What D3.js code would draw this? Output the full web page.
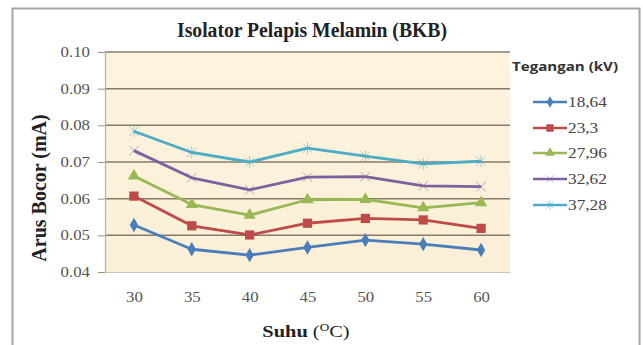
<!DOCTYPE html>
<html>
<head>
<meta charset="utf-8">
<script src="https://cdn.jsdelivr.net/npm/d3@7"></script>
<style>
  html, body { margin: 0; padding: 0; background: #fff; }
  svg { display: block; }
</style>
</head>
<body>
<svg id="chart" width="643" height="345"></svg>
<script>
// Leakage current of melamine-coated insulator vs temperature, per test voltage
const suhu = [30, 35, 40, 45, 50, 55, 60];
const teganganLabels = ["18,64", "23,3", "27,96", "32,62", "37,28"];
const arus18_64 = [0.0528, 0.0462, 0.0446, 0.0467, 0.0487, 0.0476, 0.0460];
const arus23_3  = [0.0607, 0.0526, 0.0501, 0.0533, 0.0546, 0.0542, 0.0519];
const arus27_96 = [0.0662, 0.0584, 0.0555, 0.0597, 0.0598, 0.0575, 0.0589];
const arus32_62 = [0.0731, 0.0657, 0.0624, 0.0659, 0.0660, 0.0635, 0.0633];
const arus37_28 = [0.0784, 0.0726, 0.0700, 0.0738, 0.0716, 0.0695, 0.0702];
const yTicks = [0.04, 0.05, 0.06, 0.07, 0.08, 0.09, 0.10];

const seriesValues = [arus18_64, arus23_3, arus27_96, arus32_62, arus37_28];
const colors = ["#4a7ebb", "#be4b48", "#98b954", "#7d60a0", "#4bacc6"];
const symbols = ["diamond", "square", "triangle", "x", "star"];

const svg = d3.select("#chart");
const plot = { left: 105, right: 510, top: 52, bottom: 272 };

// widen glyphs horizontally by factor k
function widen(sel, k) {
  sel.each(function () {
    const w = this.getComputedTextLength();
    d3.select(this).attr("textLength", w * k).attr("lengthAdjust", "spacingAndGlyphs");
  });
}

// outer chart frame
svg.append("rect")
  .attr("x", 12.5).attr("y", 8.5).attr("width", 627).attr("height", 345)
  .attr("fill", "#fff").attr("stroke", "#a6a6a6").attr("stroke-width", 2);

const x = d3.scalePoint().domain(suhu).range([plot.left, plot.right]).padding(0.5);
const y = d3.scaleLinear().domain([0.04, 0.10]).range([plot.bottom, plot.top]);

// plot area background
const defs = svg.append("defs");
const grad = defs.append("linearGradient").attr("id", "bg").attr("x1", 0).attr("y1", 0).attr("x2", 0).attr("y2", 1);
grad.append("stop").attr("offset", 0).attr("stop-color", "#fdf3df");
grad.append("stop").attr("offset", 1).attr("stop-color", "#fbefd6");
svg.append("rect")
  .attr("x", plot.left).attr("y", plot.top)
  .attr("width", plot.right - plot.left).attr("height", plot.bottom - plot.top)
  .attr("fill", "url(#bg)");

// gridlines
svg.append("g")
  .selectAll("line")
  .data(yTicks.filter(t => t > 0.04))
  .join("line")
  .attr("x1", plot.left).attr("x2", plot.right)
  .attr("y1", d => y(d)).attr("y2", d => y(d))
  .attr("stroke", "#857b6c").attr("stroke-width", 1.5);

// y axis
const yAxis = svg.append("g")
  .attr("transform", `translate(${plot.left},0)`)
  .call(d3.axisLeft(y).tickValues(yTicks).tickFormat(d3.format(".2f")).tickSize(7).tickPadding(8));
yAxis.select(".domain").attr("stroke", "#b5b0a8").attr("stroke-width", 1.2);
yAxis.selectAll(".tick line").attr("stroke", "#9a9489");
yAxis.selectAll("text")
  .attr("font-family", "Liberation Serif, serif").attr("font-size", 14).attr("fill", "#555");
widen(yAxis.selectAll("text"), 1.2);

// x axis
const xAxis = svg.append("g")
  .attr("transform", `translate(0,${plot.bottom})`)
  .call(d3.axisBottom(x).tickSize(0).tickPadding(20));
xAxis.select(".domain").attr("stroke", "#c8c2b8").attr("stroke-width", 1.2);
xAxis.selectAll("text")
  .attr("font-family", "Liberation Serif, serif").attr("font-size", 14).attr("fill", "#555");
widen(xAxis.selectAll("text"), 1.2);

// series lines and markers
const line = d3.line().x((d, i) => x(suhu[i])).y(d => y(d));
const symGen = {
  diamond: d3.symbol().type(d3.symbolDiamond).size(60),
  square: d3.symbol().type(d3.symbolSquare).size(85),
  triangle: d3.symbol().type(d3.symbolTriangle).size(65),
  x: d3.symbol().type(d3.symbolX).size(60)
};

function drawMarker(g, k, color, cx, cy, scale) {
  const t = symbols[k];
  const tr = `translate(${cx},${cy}) scale(${scale})`;
  if (t === "x" || t === "star") {
    g.append("path").attr("d", symGen.x()).attr("transform", tr)
      .attr("fill", "none").attr("stroke", color).attr("stroke-width", 1).attr("opacity", 0.55);
    if (t === "star") {
      g.append("line").attr("x1", cx).attr("x2", cx).attr("y1", cy - 6 * scale).attr("y2", cy + 6 * scale)
        .attr("stroke", color).attr("stroke-width", 1).attr("opacity", 0.55);
    }
  } else {
    g.append("path").attr("d", symGen[t]()).attr("transform", tr).attr("fill", color);
  }
}

seriesValues.forEach((vals, k) => {
  const g = svg.append("g");
  g.append("path").datum(vals).attr("d", line)
    .attr("fill", "none").attr("stroke", colors[k]).attr("stroke-width", 2.8)
    .attr("stroke-linejoin", "round");
  vals.forEach((v, i) => drawMarker(g, k, colors[k], x(suhu[i]), y(v), 1));
});

// title
svg.append("text")
  .attr("x", 312).attr("y", 37).attr("text-anchor", "middle")
  .attr("font-family", "Liberation Serif, serif").attr("font-weight", "bold")
  .attr("font-size", 20).attr("fill", "#222")
  .attr("textLength", 270).attr("lengthAdjust", "spacingAndGlyphs")
  .text("Isolator Pelapis Melamin (BKB)");

// y axis title
svg.append("text")
  .attr("transform", "translate(46,188) rotate(-90)")
  .attr("text-anchor", "middle")
  .attr("font-family", "Liberation Serif, serif").attr("font-weight", "bold")
  .attr("font-size", 20).attr("fill", "#222")
  .text("Arus Bocor (mA)");

// x axis title
const xt = svg.append("text")
  .attr("x", 306).attr("y", 337).attr("text-anchor", "middle")
  .attr("font-family", "Liberation Serif, serif").attr("font-size", 17).attr("fill", "#222");
xt.append("tspan").attr("font-weight", "bold").text("Suhu ");
xt.append("tspan").text("(");
xt.append("tspan").attr("font-size", 11).attr("dy", -6).text("O");
xt.append("tspan").attr("dy", 6).text("C)");
widen(xt, 1.2);

// legend
svg.append("text")
  .attr("x", 565).attr("y", 71).attr("text-anchor", "middle")
  .attr("font-family", "Open Sans, sans-serif").attr("font-weight", "bold")
  .attr("font-size", 13).attr("fill", "#333")
  .attr("textLength", 106).attr("lengthAdjust", "spacingAndGlyphs")
  .text("Tegangan (kV)");

const legY = [102, 128, 153, 179, 205];
teganganLabels.forEach((lab, k) => {
  const g = svg.append("g");
  g.append("line").attr("x1", 533).attr("x2", 567).attr("y1", legY[k]).attr("y2", legY[k])
    .attr("stroke", colors[k]).attr("stroke-width", 2.6);
  drawMarker(g, k, colors[k], 550, legY[k], 0.8);
  const t = g.append("text").attr("x", 568).attr("y", legY[k] + 5)
    .attr("font-family", "Liberation Serif, serif").attr("font-size", 15).attr("fill", "#444")
    .text(lab);
  widen(t, 1.15);
});
</script>
</body>
</html>
